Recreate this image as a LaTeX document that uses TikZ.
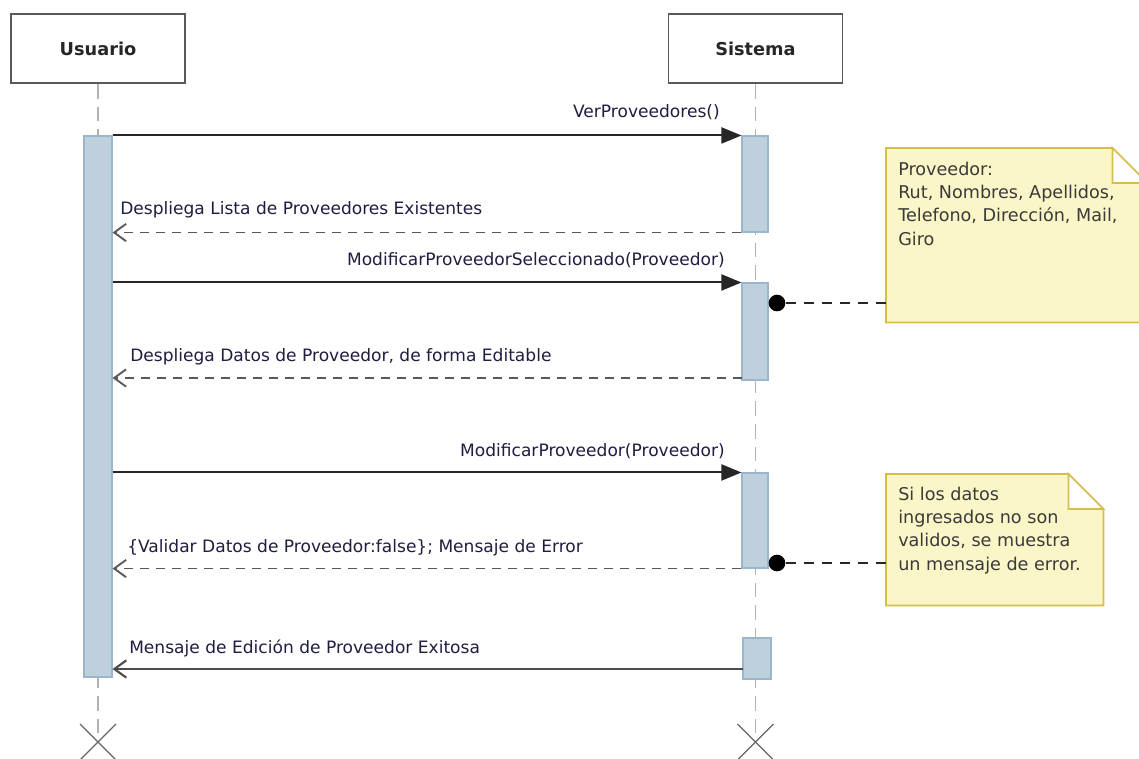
\documentclass[tikz,border=0pt]{standalone}
\usepackage{fontspec}
\setmainfont{DejaVu Sans}
\usetikzlibrary{arrows.meta}
\definecolor{actfill}{HTML}{BFD0DD}
\definecolor{actdraw}{HTML}{9BB5CC}
\definecolor{notefill}{HTML}{FBF6C8}
\definecolor{notedraw}{HTML}{D4BE50}
\definecolor{txt}{HTML}{1E1E40}
\definecolor{notetxt}{HTML}{3A3A3A}
\begin{document}
\begin{tikzpicture}[x=0.75pt,y=-0.75pt,
  actor/.style={draw=black!65, line width=1.4pt, fill=white, minimum width=130.5pt, minimum height=51.75pt, inner sep=0pt,
    font=\bfseries\fontsize{13.3}{15}\selectfont, text=black!85},
  act/.style={draw=actdraw, fill=actfill, line width=0.8pt, minimum width=21pt, inner sep=0pt},
  life/.style={draw=black!30, line width=1.2pt, dash pattern=on 11pt off 6pt},
  xmark/.style={draw=black!60, line width=0.9pt},
  call/.style={draw=black!85, line width=1.5pt, -{Triangle[length=15pt,width=12pt]}},
  ret/.style={draw=black!65, line width=1.4pt, dash pattern=on 7pt off 5pt, -{Straight Barb[length=9pt,width=13pt]}},
  rsolid/.style={draw=black!70, line width=1.6pt, -{Straight Barb[length=9pt,width=13pt]}},
  lbl/.style={font=\fontsize{12.8}{15}\selectfont, text=txt, inner sep=0pt},
  notebox/.style={draw=none, inner sep=0pt, anchor=north west},
  noteline/.style={draw=notedraw, fill=notefill, line width=1.2pt},
  notetext/.style={font=\fontsize{13.2}{17.5}\selectfont, text=notetxt, inner sep=0pt, align=left, anchor=base west},
  dot/.style={circle, fill=black, minimum size=12.5pt, inner sep=0pt},
  link/.style={draw=black!85, line width=1pt, dash pattern=on 7.5pt off 6pt}
]
\useasboundingbox[fill=white] (0,0) rectangle (1139,758);

% actors
\node[actor] (u) at (98,48.5) {Usuario};
\node[actor] (s) at (755.5,48.5) {Sistema};

% lifeline ends
\coordinate (ux) at (98,742);
\coordinate (sx) at (755.5,742);
\draw[life] (u.south) -- (ux);
\draw[life] (s.south) -- (sx);
\draw[xmark] (ux) +(-18,-18) -- +(18,18) (ux) +(-18,18) -- +(18,-18);
\draw[xmark] (sx) +(-18,-18) -- +(18,18) (sx) +(-18,18) -- +(18,-18);

% activation bars
\node[act, minimum height=405.75pt] (ub) at (98,406.5) {};
\node[act, minimum width=19.5pt, minimum height=72pt] (s1) at (755,184) {};
\node[act, minimum width=19.5pt, minimum height=72.75pt] (s2) at (755,331.5) {};
\node[act, minimum width=19.5pt, minimum height=71.25pt] (s3) at (755,520.5) {};
\node[act, minimum width=21pt, minimum height=30.75pt] (s4) at (757,658.5) {};

% messages
\draw[call] (ub.east |- s1.north) -- (s1.north west);
\node[lbl, anchor=base east] (l1) at (720,117) {VerProveedores()};

\draw[ret] (s1.south west) -- (ub.east |- s1.south);
\node[lbl, anchor=base west] (l2) at (120,214) {Despliega Lista de Proveedores Existentes};

\draw[call] (ub.east |- s2.north) -- (s2.north west);
\node[lbl, anchor=base east] (l3) at (725,265) {ModificarProveedorSeleccionado(Proveedor)};

\coordinate (m4) at (742,378);
\draw[ret] (m4) -- (ub.east |- m4);
\node[lbl, anchor=base west] (l4) at (130,361) {Despliega Datos de Proveedor, de forma Editable};

\draw[call] (ub.east |- s3.north) -- (s3.north west);
\node[lbl, anchor=base east] (l5) at (725,456) {ModificarProveedor(Proveedor)};

\draw[ret] (s3.south west) -- (ub.east |- s3.south);
\node[lbl, anchor=base west] (l6) at (127,552) {\{Validar Datos de Proveedor:false\}; Mensaje de Error};

\coordinate (m7) at (743,669);
\draw[rsolid] (m7) -- (ub.east |- m7);
\node[lbl, anchor=base west] (l7) at (129,653) {Mensaje de Edición de Proveedor Exitosa};

% note 1
\node[notebox, minimum width=195.75pt, minimum height=130.5pt] (n1) at (886,148) {};
\draw[noteline] (n1.north west) -- ([xshift=-26.25pt]n1.north east) -- ([yshift=-26.25pt]n1.north east) -- (n1.south east) -- (n1.south west) -- cycle;
\draw[noteline, fill=white] ([xshift=-26.25pt]n1.north east) -- ([xshift=-26.25pt,yshift=-26.25pt]n1.north east) -- ([yshift=-26.25pt]n1.north east) -- cycle;
\node[notetext] (t1) at (898,245) {Proveedor:\\Rut, Nombres, Apellidos,\\Telefono, Dirección, Mail,\\Giro};
\node[dot] (d1) at (777,303) {};
\draw[link] (d1) -- (n1.west |- d1);

% note 2
\node[notebox, minimum width=162.75pt, minimum height=98.25pt] (n2) at (886,474) {};
\draw[noteline] (n2.north west) -- ([xshift=-26.25pt]n2.north east) -- ([yshift=-26.25pt]n2.north east) -- (n2.south east) -- (n2.south west) -- cycle;
\draw[noteline, fill=white] ([xshift=-26.25pt]n2.north east) -- ([xshift=-26.25pt,yshift=-26.25pt]n2.north east) -- ([yshift=-26.25pt]n2.north east) -- cycle;
\node[notetext] (t2) at (898,570) {Si los datos\\ingresados no son\\validos, se muestra\\un mensaje de error.};
\node[dot] (d2) at (777,563) {};
\draw[link] (d2) -- (n2.west |- d2);
\end{tikzpicture}
\end{document}
